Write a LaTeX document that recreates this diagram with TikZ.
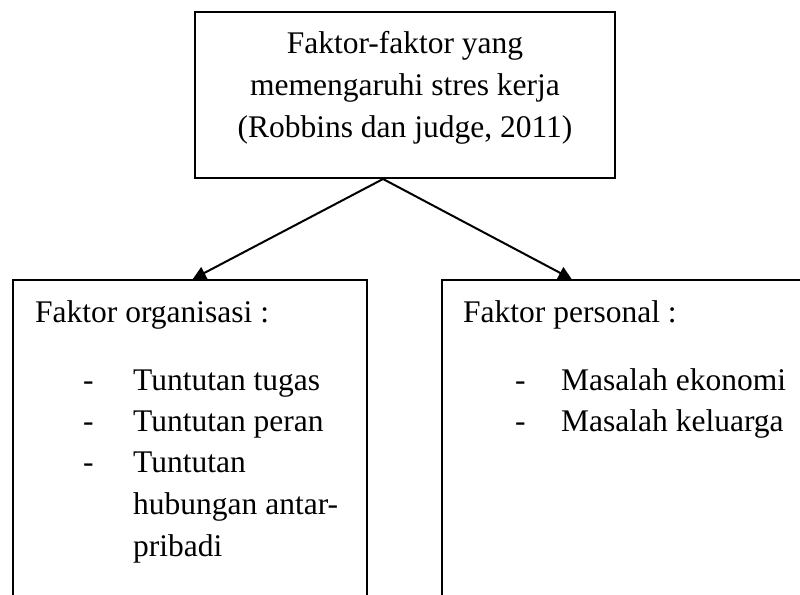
\documentclass[tikz,border=0pt]{standalone}
\usepackage{fontspec}
\setmainfont{Liberation Serif}
\usetikzlibrary{arrows.meta,calc}
\begin{document}
\begin{tikzpicture}[x=1pt,y=-1pt,
  box/.style={draw, line width=2pt, inner sep=0pt},
  arr/.style={line width=2pt, -{Triangle[length=13pt,width=13pt]}},
  txt/.style={inner sep=0pt, font=\fontsize{31.5}{41.5}\selectfont},
  lt/.style={txt, anchor=base west},
  ct/.style={txt, anchor=base}]
\clip (0,0) rectangle (800,594);
\fill[white] (0,0) rectangle (800,594);
\node[box, minimum width=420pt, minimum height=166pt] (top) at (405,95) {};
\node[box, minimum width=354pt, minimum height=380pt] (left) at (190,470) {};
\node[box, minimum width=388pt, minimum height=380pt] (right) at (636,470) {};
\node[ct] (t1) at (405,53) {Faktor-faktor yang};
\node[ct] (t2) at (405,95) {memengaruhi stres kerja};
\node[ct] (t3) at (405,137) {(Robbins dan judge, 2011)};
\coordinate (apex) at ($(top.south west)!0.448!(top.south east)$);
\draw[arr] (apex) -- ($(left.north west)!0.508!(left.north east)$);
\draw[arr] (apex) -- ($(right.north west)!0.335!(right.north east)$);
\node[lt] (lh) at (35,322) {Faktor organisasi :};
\node[lt] (ld1) at (83,390) {-};
\node[lt] (l1) at (133,390) {Tuntutan tugas};
\node[lt] (ld2) at (83,431) {-};
\node[lt] (l2) at (133,431) {Tuntutan peran};
\node[lt] (ld3) at (83,472) {-};
\node[lt] (l3) at (133,472) {Tuntutan};
\node[lt] (l4) at (133,514) {hubungan antar-};
\node[lt] (l5) at (133,556) {pribadi};
\node[lt] (rh) at (463,322) {Faktor personal :};
\node[lt] (rd1) at (515,390) {-};
\node[lt] (r1) at (561,390) {Masalah ekonomi};
\node[lt] (rd2) at (515,431) {-};
\node[lt] (r2) at (561,431) {Masalah keluarga};
\end{tikzpicture}
\end{document}
